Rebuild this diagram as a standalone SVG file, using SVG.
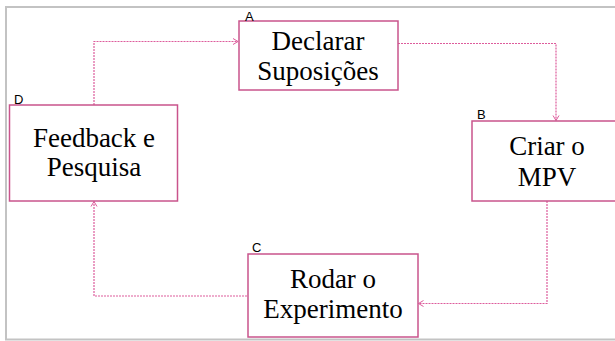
<svg xmlns="http://www.w3.org/2000/svg" width="615" height="341" viewBox="0 0 615 341">
<style>
.box{fill:#fff;stroke:#c9548c;stroke-width:1.5}
.t{font-family:"Liberation Serif","Times New Roman",serif;font-size:27px;fill:#000;text-anchor:middle}
.lb{font-family:"Liberation Sans",Arial,sans-serif;font-size:13px;fill:#000}
.c{fill:none;stroke:#dd5c9c;stroke-width:1.2;stroke-dasharray:2,1}
</style>
<defs>
<marker id="ah" markerWidth="8" markerHeight="8" refX="6" refY="4" orient="auto" markerUnits="userSpaceOnUse">
<path d="M1,1 L6,4 L1,7" fill="none" stroke="#dd5c9c" stroke-width="1"/>
</marker>
</defs>
<rect width="615" height="341" fill="#fff"/>
<path d="M616,7 H6 V339.5 H616" fill="none" stroke="#c3c3c3" stroke-width="2"/>
<g id="connectors">
<path class="c" d="M94,105 V41.5 H238" marker-end="url(#ah)"/>
<path class="c" d="M398,43.5 H556 V120.5" marker-end="url(#ah)"/>
<path class="c" d="M547,201 V303.5 H418.5" marker-end="url(#ah)"/>
<path class="c" d="M247,296 H94 V201.5" marker-end="url(#ah)"/>
</g>
<g id="nodeA">
<rect class="box" x="239" y="21" width="159" height="69"/>
<text class="lb" x="245" y="21">A</text>
<text class="t" x="318" y="50">Declarar</text>
<text class="t" x="318" y="80">Suposições</text>
</g>
<g id="nodeB">
<rect class="box" x="472" y="121" width="150" height="80"/>
<text class="lb" x="477" y="119">B</text>
<text class="t" x="547" y="155">Criar o</text>
<text class="t" x="547" y="186">MPV</text>
</g>
<g id="nodeC">
<rect class="box" x="248" y="254" width="170" height="83"/>
<text class="lb" x="252" y="252">C</text>
<text class="t" x="333" y="288">Rodar o</text>
<text class="t" x="333" y="318">Experimento</text>
</g>
<g id="nodeD">
<rect class="box" x="9.5" y="105" width="168" height="96"/>
<text class="lb" x="14" y="104">D</text>
<text class="t" x="94" y="147">Feedback e</text>
<text class="t" x="94" y="176">Pesquisa</text>
</g>
</svg>
